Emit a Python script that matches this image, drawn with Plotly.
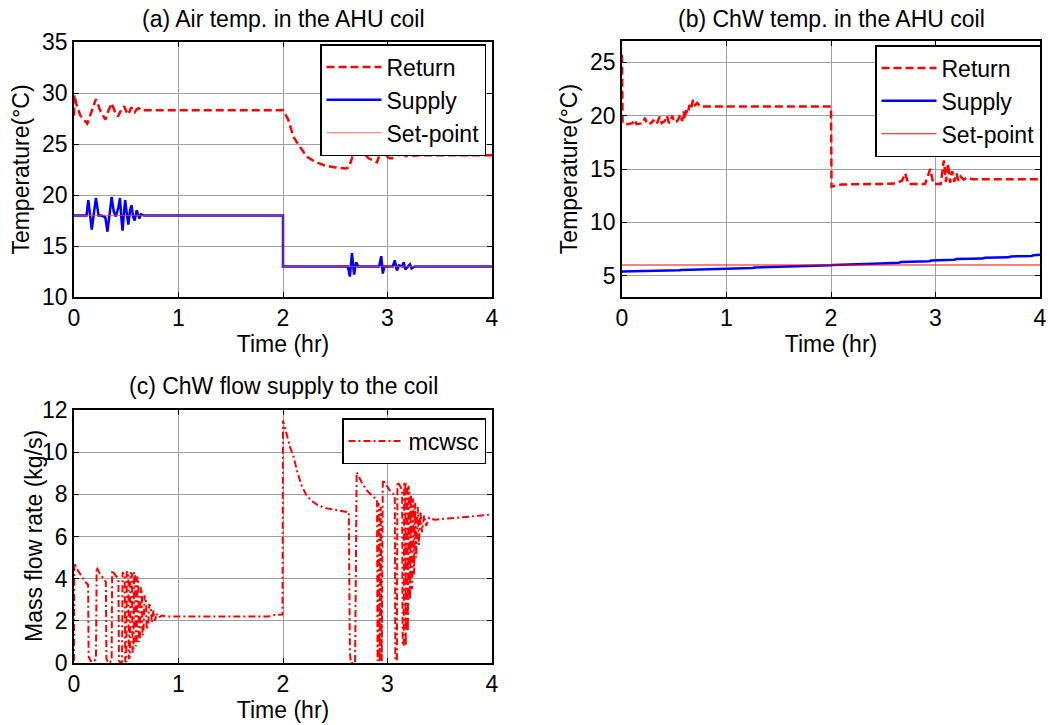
import plotly.graph_objects as go

# ---------------- data (time in hr, value) ----------------
TIME_TICKS = [0, 1, 2, 3, 4]

# (a) Air temperature in the AHU coil
AIR_RETURN = [
    (0.0, 27.8), (0.005, 29.8), (0.02, 29.0), (0.06, 27.8), (0.127, 27.0), (0.18, 28.6),
    (0.21, 29.4), (0.25, 28.3), (0.30, 27.4), (0.33, 28.3), (0.36, 29.0), (0.39, 28.2),
    (0.42, 27.7), (0.45, 28.3), (0.48, 28.7), (0.50, 28.2), (0.52, 27.9), (0.54, 28.4),
    (0.55, 28.6), (0.57, 28.2), (0.58, 28.1), (0.60, 28.4), (0.62, 28.5), (0.64, 28.3),
    (0.67, 28.3), (1.0, 28.3), (1.5, 28.3), (2.0, 28.3), (2.05, 27.4), (2.10, 25.7),
    (2.17, 24.6), (2.23, 23.75), (2.30, 23.3), (2.40, 22.9), (2.50, 22.7), (2.60, 22.6),
    (2.63, 22.7), (2.66, 23.6), (2.69, 25.0), (2.75, 24.3), (2.82, 23.6), (2.90, 23.2),
    (2.94, 24.5), (2.98, 23.9), (3.02, 23.6), (3.06, 23.6), (3.09, 24.2), (3.12, 23.7),
    (3.15, 24.0), (3.18, 23.8), (3.21, 24.0), (3.25, 23.85), (3.30, 23.9), (3.5, 23.9),
    (4.0, 23.9),
]
AIR_SUPPLY = [
    (0.0, 18.0), (0.12, 18.0), (0.137, 19.5), (0.155, 17.5), (0.17, 16.6), (0.19, 18.2),
    (0.21, 19.7), (0.235, 18.0), (0.26, 18.0), (0.30, 17.8), (0.32, 16.4), (0.345, 18.5),
    (0.36, 19.8), (0.38, 18.4), (0.40, 17.9), (0.425, 18.8), (0.44, 19.7), (0.455, 17.5),
    (0.465, 16.5), (0.48, 18.5), (0.49, 19.5), (0.505, 18.2), (0.52, 17.1), (0.535, 18.4),
    (0.55, 19.0), (0.565, 17.9), (0.58, 17.5), (0.60, 18.5), (0.61, 18.2), (0.625, 17.7),
    (0.64, 18.1), (0.67, 18.0), (2.0, 18.0), (2.0, 13.0), (2.62, 13.0), (2.64, 12.0),
    (2.66, 14.3), (2.68, 12.2), (2.70, 13.4), (2.72, 13.0), (2.92, 13.0), (2.94, 14.0),
    (2.955, 12.3), (2.97, 13.0), (3.05, 13.0), (3.07, 13.6), (3.09, 12.6), (3.11, 13.1),
    (3.14, 13.0), (3.155, 13.4), (3.17, 12.7), (3.20, 13.0), (3.215, 13.2), (3.23, 12.8),
    (3.26, 13.0), (3.30, 13.0), (4.0, 13.0),
]
AIR_SETPOINT = [(0.0, 18.0), (2.0, 18.0), (2.0, 13.0), (4.0, 13.0)]

# (b) Chilled-water temperature in the AHU coil
CHW_RETURN = [
    (0.0, 25.7), (0.005, 19.3), (0.05, 19.2), (0.10, 19.3), (0.12, 19.6), (0.14, 19.2),
    (0.20, 19.3), (0.22, 19.8), (0.24, 19.2), (0.28, 19.3), (0.30, 19.6), (0.32, 19.2),
    (0.34, 19.4), (0.36, 19.9), (0.38, 19.3), (0.41, 19.5), (0.43, 20.0), (0.45, 19.3),
    (0.47, 19.6), (0.48, 20.0), (0.50, 19.4), (0.53, 19.5), (0.56, 20.1), (0.575, 19.5),
    (0.59, 20.4), (0.60, 19.7), (0.615, 20.5), (0.63, 20.2), (0.645, 21.0), (0.66, 20.6),
    (0.68, 21.5), (0.70, 21.0), (0.72, 21.2), (0.75, 20.85), (1.0, 20.85), (1.5, 20.85),
    (2.0, 20.85), (2.005, 13.35), (2.10, 13.55), (2.50, 13.6), (2.62, 13.65), (2.68, 13.9),
    (2.71, 14.6), (2.74, 13.6), (2.90, 13.6), (2.95, 15.0), (2.98, 13.6), (3.05, 13.6),
    (3.08, 15.8), (3.10, 13.8), (3.12, 15.5), (3.14, 13.7), (3.16, 14.8), (3.18, 13.8),
    (3.20, 14.6), (3.22, 13.9), (3.24, 14.3), (3.27, 14.0), (3.30, 14.2), (3.35, 14.05),
    (3.5, 14.05), (4.0, 14.05),
]
CHW_SUPPLY = [
    (0.0, 5.38), (0.30, 5.42), (0.32, 5.48), (0.55, 5.50), (0.57, 5.53), (0.84, 5.58),
    (0.86, 5.63), (1.25, 5.72), (1.27, 5.77), (1.68, 5.85), (1.70, 5.90), (2.00, 5.97),
    (2.02, 6.00), (2.37, 6.06), (2.40, 6.12), (2.65, 6.22), (2.67, 6.28), (2.94, 6.35),
    (2.96, 6.42), (3.18, 6.50), (3.20, 6.56), (3.45, 6.60), (3.47, 6.68), (3.70, 6.72),
    (3.72, 6.80), (3.92, 6.85), (3.94, 6.92), (4.0, 6.95),
]
CHW_SETPOINT = [(0.0, 6.0), (4.0, 6.0)]

# (c) ChW mass flow supply to the coil
MCWSC = [
    (0.0, 0.1), (0.003, 4.75), (0.03, 4.45), (0.07, 4.1), (0.10, 3.9), (0.135, 3.7),
    (0.14, 0.3), (0.16, 0.1), (0.19, 0.05), (0.21, 0.2), (0.217, 4.55), (0.24, 4.3),
    (0.28, 4.0), (0.305, 3.85), (0.31, 0.2), (0.33, 0.0), (0.36, 0.1), (0.365, 4.4),
    (0.39, 4.2), (0.425, 4.0), (0.43, 0.1), (0.45, 0.0), (0.46, 0.05), (0.465, 4.3),
    (0.485, 4.2), (0.49, 0.1), (0.50, 0.05), (0.505, 4.35), (0.52, 4.2), (0.525, 0.2),
    (0.535, 0.3), (0.54, 4.3), (0.555, 4.2), (0.56, 0.5), (0.57, 0.6), (0.575, 4.3),
    (0.585, 4.1), (0.59, 0.8), (0.60, 0.9), (0.605, 4.1), (0.615, 3.9), (0.62, 1.0),
    (0.63, 1.1), (0.64, 3.6), (0.65, 3.3), (0.655, 1.3), (0.665, 1.5), (0.675, 3.2),
    (0.69, 2.9), (0.695, 1.6), (0.71, 1.8), (0.72, 2.8), (0.735, 2.6), (0.745, 1.9),
    (0.76, 2.5), (0.775, 2.0), (0.79, 2.35), (0.81, 2.15), (0.84, 2.25), (0.90, 2.2),
    (1.2, 2.2), (1.6, 2.2), (1.85, 2.2), (1.92, 2.28), (1.995, 2.3),
    (2.0, 11.5), (2.03, 10.9), (2.07, 10.2), (2.10, 9.8), (2.14, 9.0), (2.18, 8.4),
    (2.22, 8.0), (2.27, 7.7), (2.33, 7.5), (2.40, 7.35), (2.50, 7.25), (2.63, 7.15),
    (2.64, 0.5), (2.65, 0.0), (2.69, 0.0), (2.705, 9.05), (2.75, 8.6), (2.80, 8.2),
    (2.86, 7.9), (2.90, 7.75), (2.905, 0.1), (2.915, 7.6), (2.925, 0.05), (2.935, 7.4),
    (2.945, 0.1), (2.955, 8.7), (2.98, 8.5), (3.02, 8.2), (3.07, 7.95), (3.075, 0.15),
    (3.09, 0.1), (3.095, 8.6), (3.12, 8.4), (3.14, 8.2), (3.145, 0.9), (3.155, 0.8),
    (3.16, 8.6), (3.17, 8.4), (3.175, 0.8), (3.18, 8.5), (3.19, 8.3), (3.195, 1.5),
    (3.20, 8.4), (3.21, 8.2), (3.215, 3.0), (3.225, 8.0), (3.235, 3.5), (3.245, 7.8),
    (3.255, 4.2), (3.265, 7.6), (3.275, 5.0), (3.29, 7.4), (3.30, 5.6), (3.315, 7.2),
    (3.33, 6.2), (3.35, 7.0), (3.37, 6.5), (3.40, 6.9), (3.45, 6.8), (3.6, 6.85),
    (3.8, 6.95), (4.0, 7.05),
]

TITLES = ["(a) Air temp. in the AHU coil", "(b) ChW temp. in the AHU coil",
          "(c) ChW flow supply to the coil"]

# ---------------- figure ----------------
W, H = 1048, 725
FONT = "Liberation Sans, Arial, sans-serif"
FS = 23


def xy(pairs):
    return [p[0] for p in pairs], [p[1] for p in pairs]


def px_dom(a, b, total):
    return [a / total, b / total]


def py_dom(top, bottom):
    return [1 - bottom / H, 1 - top / H]


fig = go.Figure()

RETURN_STYLE = dict(color="red", width=2.5, dash="8px,4px")
SUPPLY_STYLE = dict(color="blue", width=2.5)

t, v = xy(AIR_RETURN)
fig.add_trace(go.Scatter(x=t, y=v, mode="lines", name="Return", line=RETURN_STYLE,
                         xaxis="x", yaxis="y", legend="legend"))
t, v = xy(AIR_SUPPLY)
fig.add_trace(go.Scatter(x=t, y=v, mode="lines", name="Supply", line=SUPPLY_STYLE,
                         xaxis="x", yaxis="y", legend="legend"))
t, v = xy(AIR_SETPOINT)
fig.add_trace(go.Scatter(x=t, y=v, mode="lines", name="Set-point",
                         line=dict(color="rgba(255,60,60,0.8)", width=1),
                         xaxis="x", yaxis="y", legend="legend"))

t, v = xy(CHW_RETURN)
fig.add_trace(go.Scatter(x=t, y=v, mode="lines", name="Return", line=RETURN_STYLE,
                         xaxis="x2", yaxis="y2", legend="legend2"))
t, v = xy(CHW_SUPPLY)
fig.add_trace(go.Scatter(x=t, y=v, mode="lines", name="Supply", line=SUPPLY_STYLE,
                         xaxis="x2", yaxis="y2", legend="legend2"))
t, v = xy(CHW_SETPOINT)
fig.add_trace(go.Scatter(x=t, y=v, mode="lines", name="Set-point",
                         line=dict(color="red", width=1.2),
                         xaxis="x2", yaxis="y2", legend="legend2"))

t, v = xy(MCWSC)
fig.add_trace(go.Scatter(x=t, y=v, mode="lines", name="mcwsc",
                         line=dict(color="red", width=2, dash="7px,3px,2px,3px"),
                         xaxis="x3", yaxis="y3", legend="legend3"))

axis_common = dict(showline=True, linecolor="black", linewidth=1.5, mirror="ticks",
                   ticks="inside", ticklen=5, tickcolor="black", tickwidth=1,
                   showgrid=True, gridcolor="#a0a0a0", gridwidth=1, zeroline=False,
                   tickfont=dict(size=FS, color="black", family=FONT), automargin=False)

xcommon = dict(axis_common, range=[0, 4], tickvals=TIME_TICKS,
               title=dict(text="Time (hr)", font=dict(size=FS, family=FONT), standoff=3))

fig.update_layout(
    width=W, height=H, margin=dict(l=0, r=0, t=0, b=0),
    paper_bgcolor="white", plot_bgcolor="white",
    font=dict(family=FONT, size=FS, color="black"),
    xaxis=dict(xcommon, domain=px_dom(74, 492, W), anchor="y"),
    yaxis=dict(axis_common, domain=py_dom(42, 297), anchor="x", range=[10, 35], dtick=5,
               title=dict(text="Temperature(°C)", font=dict(size=FS), standoff=6)),
    xaxis2=dict(xcommon, domain=px_dom(622, 1040, W), anchor="y2"),
    yaxis2=dict(axis_common, domain=py_dom(41, 297), anchor="x2", range=[3, 27],
                tickvals=[5, 10, 15, 20, 25],
                title=dict(text="Temperature(°C)", font=dict(size=FS), standoff=6)),
    xaxis3=dict(xcommon, domain=px_dom(74, 492, W), anchor="y3"),
    yaxis3=dict(axis_common, domain=py_dom(410, 663), anchor="x3", range=[0, 12], dtick=2),
)

legend_common = dict(xanchor="right", yanchor="top", bgcolor="white", bordercolor="black",
                     borderwidth=1.5, font=dict(size=FS, family=FONT, color="black"),
                     tracegroupgap=0, itemwidth=55)
fig.update_layout(
    legend=dict(legend_common, x=486 / W, y=1 - 44 / H),
    legend2=dict(legend_common, x=1041 / W, y=1 - 45 / H),
    legend3=dict(legend_common, x=486 / W, y=1 - 418 / H),
)

title_pos = [((74 + 492) / 2, 19), ((622 + 1040) / 2, 19), ((74 + 492) / 2, 386)]
for text, (cx, cy) in zip(TITLES, title_pos):
    fig.add_annotation(text=text, x=cx / W, y=1 - cy / H, xref="paper", yref="paper",
                       showarrow=False, xanchor="center", yanchor="middle",
                       font=dict(size=FS, family=FONT, color="black"))

# y-axis title of panel (c), placed close to the tick labels as in the original
fig.add_annotation(text="Mass flow rate (kg/s)", x=34 / W, y=1 - 536 / H,
                   xref="paper", yref="paper", showarrow=False, textangle=-90,
                   xanchor="center", yanchor="middle",
                   font=dict(size=FS, family=FONT, color="black"))

fig.write_html("out.html")
